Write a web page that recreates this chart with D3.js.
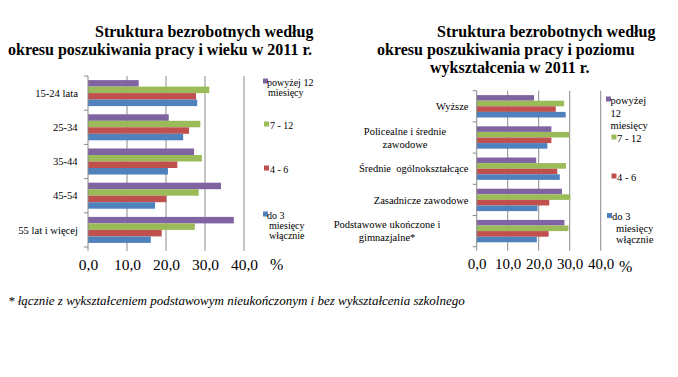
<html>
<head>
  <script src="https://d3js.org/d3.v7.min.js"></script>
  <style>
    body { margin: 0; background: white; }
    text { white-space: pre; }
  </style>
</head>
<body>
  <svg id="chart" width="678" height="377"></svg>
  <script>
    // series (top bar to bottom bar inside each group)
    const seriesKeys = ["powyżej 12 miesięcy", "7 - 12", "4 - 6", "do 3 miesięcy włącznie"];
    const seriesColors = ["#8064A2", "#9BBB59", "#C0504D", "#4F81BD"];
    const xTicks = [0, 10, 20, 30, 40];

    // chart 1: by age
    const ageCats = ["15-24 lata", "25-34", "35-44", "45-54", "55 lat i więcej"];
    const ageOver12 = [13.0, 20.7, 27.2, 34.1, 37.4];
    const age7to12 = [31.1, 28.8, 29.2, 28.4, 27.4];
    const age4to6 = [27.7, 25.9, 22.9, 20.1, 18.9];
    const ageUpTo3 = [28.0, 24.4, 20.5, 17.2, 16.1];

    // chart 2: by education
    const eduCats = ["Wyższe", "Policealne i średnie\nzawodowe", "Średnie  ogólnokształcące",
      "Zasadnicze zawodowe", "Podstawowe ukończone i\ngimnazjalne*"];
    const eduOver12 = [18.5, 24.1, 19.2, 27.5, 28.3];
    const edu7to12 = [28.2, 29.8, 28.8, 30.2, 29.6];
    const edu4to6 = [25.5, 24.1, 26.0, 23.4, 23.2];
    const eduUpTo3 = [28.7, 22.8, 26.8, 19.6, 19.4];

    const SERIF = "'Liberation Serif', 'Times New Roman', serif";
    const svg = d3.select("svg#chart");
    const comma = v => d3.format(".1f")(v).replace(".", ",");

    function label(parent, x, y, size, txt) {
      return parent.append("text").attr("x", x).attr("y", y)
        .style("font-family", SERIF).style("font-size", size + "px")
        .style("fill", "black").text(txt);
    }

    function drawChart(opts) {
      const g = svg.append("g");
      const x = d3.scaleLinear().domain([0, 40]).range([opts.left, opts.right]);
      const y0 = d3.scaleBand().domain(opts.cats).range([opts.top, opts.bottom]);
      const y1 = d3.scaleBand().domain(seriesKeys).range([0, y0.bandwidth()]).paddingOuter(opts.outer);

      // gridlines (extend a bit below as tick marks)
      xTicks.forEach(t => {
        if (t === 0) return;
        g.append("line")
          .attr("x1", x(t)).attr("x2", x(t))
          .attr("y1", opts.top).attr("y2", opts.bottom + 4)
          .style("stroke", "#8a8a8a");
      });

      // bars
      opts.cats.forEach((c, i) => {
        opts.series.forEach((vals, s) => {
          g.append("rect")
            .attr("x", x(0))
            .attr("y", y0(c) + y1(seriesKeys[s]))
            .attr("width", x(vals[i]) - x(0))
            .attr("height", y1.bandwidth())
            .style("fill", seriesColors[s]);
        });
      });

      // left axis with tick marks at band boundaries
      g.append("line")
        .attr("x1", x(0)).attr("x2", x(0))
        .attr("y1", opts.top).attr("y2", opts.bottom + 4)
        .style("stroke", "#8a8a8a");
      opts.cats.forEach(c => {
        g.append("line")
          .attr("x1", x(0) - 4).attr("x2", x(0))
          .attr("y1", y0(c)).attr("y2", y0(c))
          .style("stroke", "#8a8a8a");
      });
      g.append("line")
        .attr("x1", x(0) - 4).attr("x2", x(0))
        .attr("y1", opts.bottom).attr("y2", opts.bottom)
        .style("stroke", "#8a8a8a");

      // category labels (multi-line centred, block right-aligned)
      opts.cats.forEach(c => {
        const lines = c.split("\n");
        const cy = y0(c) + y0.bandwidth() / 2;
        const t = g.append("text")
          .style("font-family", SERIF).style("font-size", opts.catSize + "px").style("fill", "black");
        lines.forEach((l, k) => {
          t.append("tspan").text(l)
            .attr("y", cy + 3.7 + (k - (lines.length - 1) / 2) * 12.7);
        });
        const w = t.node().getBBox().width;
        t.attr("text-anchor", "middle");
        t.selectAll("tspan").attr("x", x(0) - opts.labelGap - w / 2);
      });

      // x tick labels
      const axis = g.append("g")
        .attr("transform", `translate(0,${opts.tickY})`)
        .call(d3.axisBottom(x).tickValues(xTicks).tickFormat(comma).tickSize(0));
      axis.select(".domain").remove();
      axis.selectAll("text")
        .attr("dy", 0).attr("y", 0)
        .style("font-size", opts.tickSize + "px")
        .style("font-family", SERIF).style("fill", "black");

      label(g, opts.pctX, opts.pctY, 16, "%");

      // legend
      opts.legend.forEach((item, s) => {
        g.append("rect")
          .attr("x", item.mx).attr("y", item.lines[0][2] - 7)
          .attr("width", 5).attr("height", 5)
          .style("fill", seriesColors[s]);
        item.lines.forEach(ln => label(g, ln[1], ln[2], opts.legSize, ln[0]));
      });

      // title
      opts.title.forEach(ln => {
        label(g, ln[1], ln[2], 16, ln[0]).style("font-weight", "bold");
      });
    }

    drawChart({
      cats: ageCats,
      series: [ageOver12, age7to12, age4to6, ageUpTo3],
      left: 88, right: 244, top: 76, bottom: 247, outer: 0.63,
      catSize: 10.6, labelGap: 10, tickY: 270, tickSize: 15.5,
      pctX: 270, pctY: 270, legSize: 10,
      legend: [
        { mx: 263, lines: [["powyżej 12", 267, 85.5], ["miesięcy", 268, 96]] },
        { mx: 264, lines: [["7 - 12", 270, 128.5]] },
        { mx: 264, lines: [["4 - 6", 270, 172.5]] },
        { mx: 263, lines: [["do 3", 267, 218.5], ["miesięcy", 269, 228.5], ["włącznie", 269, 239]] }
      ],
      title: [["Struktura bezrobotnych według", 95, 37], ["okresu poszukiwania pracy i wieku w 2011 r.", 8, 55]]
    });

    drawChart({
      cats: eduCats,
      series: [eduOver12, edu7to12, edu4to6, eduUpTo3],
      left: 476.7, right: 600.7, top: 90.7, bottom: 246.7, outer: 0.79,
      catSize: 10.5, labelGap: 8, tickY: 268.5, tickSize: 15,
      pctX: 619, pctY: 272, legSize: 10.5,
      legend: [
        { mx: 606, lines: [["powyżej", 610.5, 103.5], ["12", 610.5, 116.5], ["miesięcy", 610.5, 129]] },
        { mx: 611.5, lines: [["7 - 12", 617, 141.5]] },
        { mx: 611.5, lines: [["4 - 6", 617, 180.5]] },
        { mx: 607, lines: [["do 3", 612, 220], ["miesięcy", 616, 231.5], ["włącznie", 616, 243]] }
      ],
      title: [["Struktura bezrobotnych według", 437, 37], ["okresu poszukiwania pracy i poziomu", 377, 55],
        ["wykształcenia w 2011 r.", 430, 73]]
    });

    label(svg, 8, 305, 13, "* łącznie z wykształceniem podstawowym nieukończonym i bez wykształcenia szkolnego")
      .style("font-style", "italic");
  </script>
</body>
</html>
